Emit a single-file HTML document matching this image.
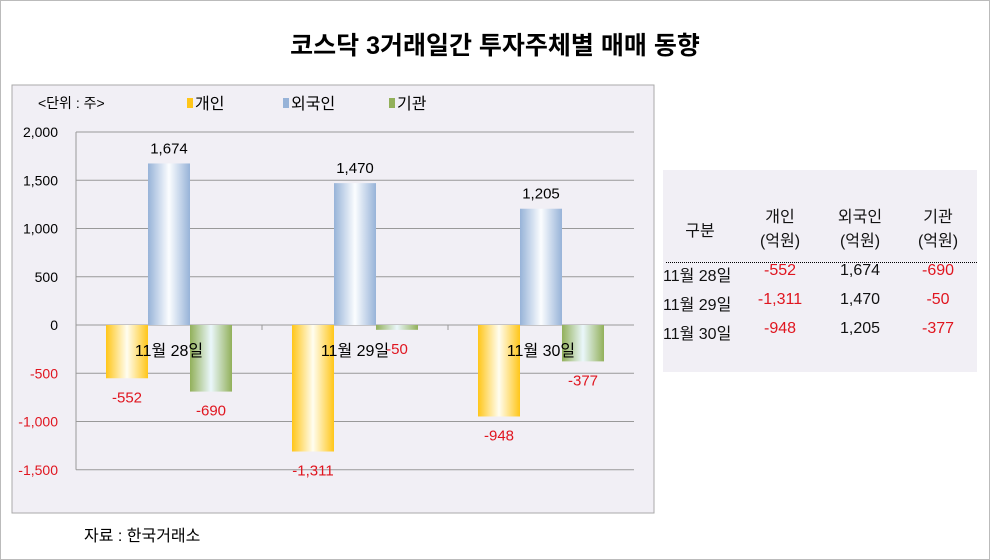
<!DOCTYPE html>
<html><head><meta charset="utf-8"><style>
body{margin:0;width:990px;height:560px;background:#fff;font-family:"Liberation Sans","Noto Sans CJK KR",sans-serif;position:relative;overflow:hidden}
.frame{position:absolute;left:0;top:0;width:988px;height:558px;border:1px solid #bbb}
.title{position:absolute;left:0;width:990px;top:26px;text-align:center;font-size:25px;font-weight:bold;color:#000}
.tbl{position:absolute;left:663px;top:170px;width:314px;height:202px;background:#f1eff5}
.tbl div{position:absolute;font-size:16px;color:#111;text-align:center}
.red{color:#e0151f!important}
</style></head><body>
<div class="frame"></div>
<div class="title">코스닥 3거래일간 투자주체별 매매 동향</div>
<svg id="chart" style="position:absolute;left:0;top:0" width="660" height="520">
<defs>
<linearGradient id="gY" x1="0" x2="1"><stop offset="0" stop-color="#ffc619"/><stop offset="0.5" stop-color="#fffdf0"/><stop offset="1" stop-color="#ffc619"/></linearGradient>
<linearGradient id="gB" x1="0" x2="1"><stop offset="0" stop-color="#97b3d8"/><stop offset="0.5" stop-color="#fbfdff"/><stop offset="1" stop-color="#97b3d8"/></linearGradient>
<linearGradient id="gG" x1="0" x2="1"><stop offset="0" stop-color="#92b05a"/><stop offset="0.5" stop-color="#eaf7fb"/><stop offset="1" stop-color="#92b05a"/></linearGradient>
</defs>
<rect x="12" y="85" width="642" height="428" fill="#f1eff5" stroke="#aaa"/>
<g id="g"></g>
</svg>
<div class="tbl">
<div style="left:12px;top:47px;width:50px">구분</div>
<div style="left:82px;top:33px;width:70px">개인<br><span style="line-height:30px">(억원)</span></div>
<div style="left:162px;top:33px;width:70px">외국인<br><span style="line-height:30px">(억원)</span></div>
<div style="left:240px;top:33px;width:70px">기관<br><span style="line-height:30px">(억원)</span></div>
<div style="left:3px;top:92px;width:311px;border-top:1px dotted #000;height:0"></div>
<div style="left:0;top:92px;width:80px;text-align:left">11월 28일</div><div class="red" style="left:82px;top:92px;width:70px">-552</div><div style="left:162px;top:92px;width:70px">1,674</div><div class="red" style="left:240px;top:92px;width:70px">-690</div>
<div style="left:0;top:121px;width:80px;text-align:left">11월 29일</div><div class="red" style="left:82px;top:121px;width:70px">-1,311</div><div style="left:162px;top:121px;width:70px">1,470</div><div class="red" style="left:240px;top:121px;width:70px">-50</div>
<div style="left:0;top:150px;width:80px;text-align:left">11월 30일</div><div class="red" style="left:82px;top:150px;width:70px">-948</div><div style="left:162px;top:150px;width:70px">1,205</div><div class="red" style="left:240px;top:150px;width:70px">-377</div>
</div>
<div style="position:absolute;left:84px;top:522px;font-size:16px">자료 : 한국거래소</div>
<script>
const categories=["11월 28일","11월 29일","11월 30일"];
const seriesNames=["개인","외국인","기관"];
const individual=[-552,-1311,-948];
const foreign=[1674,1470,1205];
const institution=[-690,-50,-377];
const ticks=[2000,1500,1000,500,0,-500,-1000,-1500];
const tickLabels=["2,000","1,500","1,000","500","0","-500","-1,000","-1,500"];
const NS="http://www.w3.org/2000/svg";
const g=document.getElementById('g');
const x0=76,x1=634,yTop=132,yZero=325;
const y=v=>yZero-(v)*(yZero-yTop)/2000;
const gw=(x1-x0)/categories.length, bw=42;
function mk(t,a){const e=document.createElementNS(NS,t);for(const k in a)e.setAttribute(k,a[k]);g.appendChild(e);return e;}
const fmt=v=>v.toLocaleString('en-US');
ticks.forEach((t,i)=>{
 const l=mk('line',{x1:x0,x2:x1,y1:y(t),y2:y(t),stroke:'#999','stroke-width':1});
 
 
 const tx=mk('text',{x:58,y:y(t)+5,'text-anchor':'end','font-size':14,fill:t<0?'#e0151f':'#000'});
 tx.textContent=tickLabels[i];
 
 
});
const axis=mk('line',{x1:x0,x2:x0,y1:yTop,y2:y(-1500),stroke:'#999'});


for(let i=1;i<categories.length;i++){const tk=mk('line',{x1:x0+gw*i,x2:x0+gw*i,y1:yZero,y2:yZero+5,stroke:'#999'});
 
 }
const series=[individual,foreign,institution],fills=['url(#gY)','url(#gB)','url(#gG)'];
categories.forEach((c,i)=>{
 const cx=x0+gw*i+gw/2;
 series.forEach((s,j)=>{
  const v=s[i],bx=cx-bw*1.5+bw*j;
  const r=mk('rect',{x:bx,y:Math.min(y(v),yZero),width:bw,height:Math.abs(y(v)-yZero),fill:fills[j]});
  
  
  const lt=mk('text',{x:bx+bw/2,y:v>=0?y(v)-10:y(v)+24,'text-anchor':'middle','font-size':15,fill:v<0?'#e0151f':'#000'});
  lt.textContent=fmt(v);
  
  
 });
 const ct=mk('text',{x:cx,y:356,'text-anchor':'middle','font-size':16,fill:'#000'});
 ct.textContent=c;
 
 
});
const ut=mk('text',{x:38,y:108,'font-size':14,fill:'#000'});ut.textContent='<단위 : 주>';


const lx=[187,283,389],lc=['#ffc619','#97b3d8','#92b05a'];
seriesNames.forEach((n,j)=>{
 const sw=mk('rect',{x:lx[j],y:98,width:6,height:10,fill:lc[j]});
 
 
 const t=mk('text',{x:lx[j]+8,y:109,'font-size':16,fill:'#000'});t.textContent=n;
 
 
});
</script>
</body></html>
